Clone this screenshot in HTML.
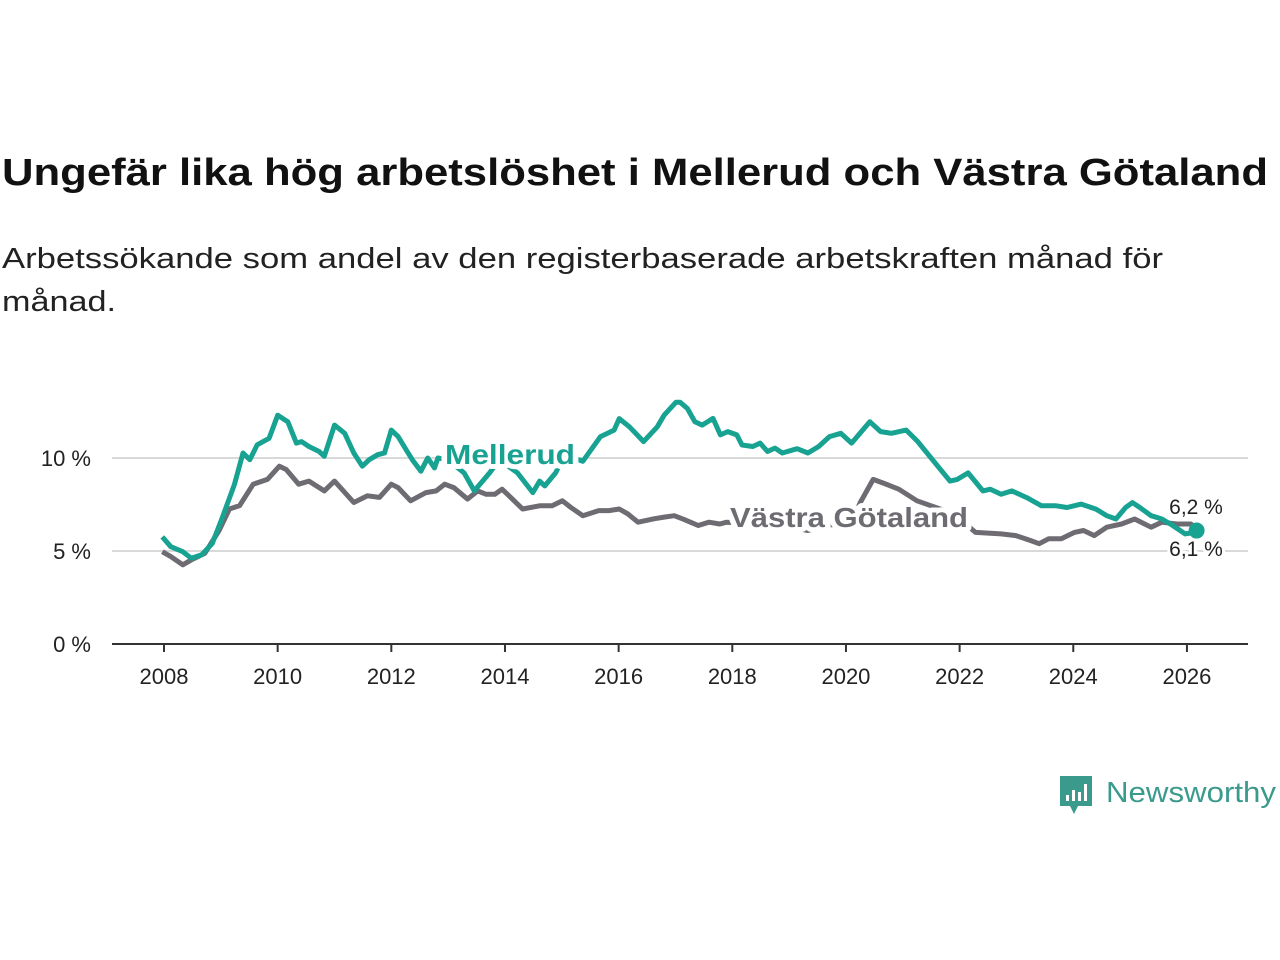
<!DOCTYPE html>
<html><head><meta charset="utf-8"><style>
html,body{margin:0;padding:0;background:#fff}
svg{display:block;font-family:"Liberation Sans","DejaVu Sans",sans-serif}
</style></head><body>
<svg id="chart" width="1280" height="960" viewBox="0 0 1280 960">
<text x="2" y="185" font-size="38" font-weight="bold" fill="#111" textLength="1266" lengthAdjust="spacingAndGlyphs">Ungefär lika hög arbetslöshet i Mellerud och Västra Götaland</text>
<text x="2" y="268" font-size="29" fill="#222" textLength="1161" lengthAdjust="spacingAndGlyphs">Arbetssökande som andel av den registerbaserade arbetskraften månad för</text>
<text x="2" y="311" font-size="29" fill="#222" textLength="114" lengthAdjust="spacingAndGlyphs">månad.</text>
<g id="grid"></g>
<g id="yticks"></g>
<g id="xticks"></g>
<g id="lines"></g>
<g>
<path d="M1060 776 h32 v30 h-14 l-4 8 l-4 -8 h-10 z" fill="#3a9a8c"/>
<rect x="1066" y="795" width="3" height="6" fill="#fff"/><rect x="1072" y="790" width="3" height="11" fill="#fff"/><rect x="1078" y="792" width="3" height="9" fill="#fff"/><rect x="1084" y="784" width="3" height="17" fill="#fff"/>
<text x="1106" y="802" font-size="29" fill="#3a9a8c" textLength="170" lengthAdjust="spacingAndGlyphs">Newsworthy</text>
</g>
</svg>
<script>
const yTicks=[0,5,10];
const yTickLabels=["0 %","5 %","10 %"];
const xTicks=[2008,2010,2012,2014,2016,2018,2020,2022,2024,2026];
const mYears=[2007.97,2008.12,2008.33,2008.48,2008.66,2008.85,2009.03,2009.24,2009.39,2009.51,2009.64,2009.85,2010.0,2010.18,2010.33,2010.42,2010.55,2010.73,2010.82,2011.0,2011.18,2011.34,2011.49,2011.61,2011.76,2011.88,2012.0,2012.12,2012.28,2012.37,2012.52,2012.64,2012.76,2012.82,2013.0,2013.28,2013.46,2013.73,2013.9,2014.22,2014.49,2014.61,2014.7,2014.89,2015.0,2015.2,2015.37,2015.68,2015.92,2016.01,2016.19,2016.44,2016.68,2016.8,2017.01,2017.08,2017.21,2017.34,2017.47,2017.66,2017.79,2017.92,2018.08,2018.17,2018.36,2018.49,2018.62,2018.75,2018.88,2019.14,2019.33,2019.52,2019.71,2019.91,2020.1,2020.42,2020.61,2020.8,2021.06,2021.26,2021.45,2021.64,2021.83,2021.96,2022.15,2022.41,2022.54,2022.73,2022.92,2023.18,2023.44,2023.7,2023.89,2024.14,2024.4,2024.59,2024.75,2024.92,2025.04,2025.17,2025.37,2025.56,2025.75,2025.97,2026.14,2026.17];
const mValues=[5.76,5.23,4.96,4.61,4.79,5.41,6.82,8.59,10.27,9.91,10.71,11.06,12.3,11.94,10.8,10.88,10.62,10.35,10.09,11.77,11.33,10.27,9.56,9.91,10.18,10.27,11.5,11.15,10.35,9.91,9.29,10.0,9.47,10.0,9.9,9.2,8.23,9.2,9.9,9.2,8.14,8.76,8.5,9.2,9.9,10.0,9.82,11.15,11.5,12.12,11.68,10.88,11.68,12.3,13.0,13.0,12.66,11.95,11.77,12.13,11.24,11.42,11.24,10.7,10.62,10.8,10.35,10.53,10.27,10.5,10.27,10.62,11.15,11.33,10.8,11.95,11.42,11.33,11.5,10.89,10.18,9.47,8.76,8.85,9.2,8.23,8.32,8.05,8.23,7.87,7.43,7.43,7.34,7.52,7.25,6.9,6.72,7.34,7.6,7.34,6.9,6.72,6.37,5.92,6.0,6.1];
const gYears=[2007.97,2008.12,2008.33,2008.48,2008.72,2008.97,2009.15,2009.33,2009.57,2009.82,2010.03,2010.15,2010.37,2010.55,2010.82,2011.0,2011.34,2011.58,2011.79,2012.0,2012.12,2012.34,2012.61,2012.79,2012.94,2013.1,2013.34,2013.52,2013.67,2013.82,2013.95,2014.13,2014.31,2014.61,2014.83,2015.01,2015.16,2015.37,2015.65,2015.83,2016.01,2016.16,2016.34,2016.62,2016.8,2016.98,2017.15,2017.4,2017.59,2017.78,2017.9,2018.2,2018.6,2019.0,2019.33,2019.7,2020.1,2020.25,2020.48,2020.7,2020.93,2021.25,2021.5,2021.9,2022.28,2022.73,2022.99,2023.24,2023.4,2023.57,2023.79,2024.02,2024.18,2024.37,2024.59,2024.85,2025.08,2025.37,2025.56,2025.82,2026.07,2026.17];
const gValues=[4.96,4.7,4.26,4.52,4.88,6.1,7.26,7.44,8.59,8.85,9.56,9.38,8.59,8.76,8.23,8.76,7.61,7.97,7.88,8.59,8.41,7.7,8.14,8.23,8.59,8.41,7.79,8.23,8.05,8.05,8.32,7.79,7.26,7.43,7.43,7.7,7.34,6.9,7.17,7.17,7.26,7.0,6.55,6.73,6.82,6.9,6.7,6.37,6.55,6.45,6.55,6.5,6.4,6.3,6.1,6.4,6.5,7.6,8.85,8.6,8.32,7.7,7.43,7.0,6.0,5.92,5.83,5.57,5.39,5.66,5.66,6.0,6.1,5.83,6.28,6.45,6.72,6.28,6.55,6.45,6.45,6.2];
const NS="http://www.w3.org/2000/svg";
const X=y=>164+(y-2008)*56.83;
const Y=v=>644-v*18.6;
function mk(tag,attrs,parent,text){const e=document.createElementNS(NS,tag);for(const k in attrs)e.setAttribute(k,attrs[k]);if(text!==undefined)e.textContent=text;parent.appendChild(e);return e;}
const grid=document.getElementById('grid'),yt=document.getElementById('yticks'),xt=document.getElementById('xticks'),ln=document.getElementById('lines');
yTicks.forEach((t,i)=>{
 if(t>0){const g=mk('line',{x1:112,x2:1248,y1:Y(t),y2:Y(t),stroke:'#d9d9d9','stroke-width':2},grid);
 
 }
 const l=mk('text',{x:91,y:Y(t)+8,'font-size':22,fill:'#222','text-anchor':'end'},yt,yTickLabels[i]);
 
 
});
const ax=mk('line',{x1:112,x2:1248,y1:644,y2:644,stroke:'#333','stroke-width':2},xt);


xTicks.forEach(t=>{
 const tk=mk('line',{x1:X(t),x2:X(t),y1:644,y2:652,stroke:'#333','stroke-width':2},xt);
 
 
 const l=mk('text',{x:X(t),y:684,'font-size':22,fill:'#222','text-anchor':'middle'},xt,String(t));
 
 
});
function pts(ys,vs){return ys.map((y,i)=>X(y).toFixed(1)+','+Y(vs[i]).toFixed(1)).join(' ');}
const gl=mk('polyline',{points:pts(gYears,gValues),fill:'none',stroke:'#6e6c72','stroke-width':5,'stroke-linejoin':'round'},ln);


const ml=mk('polyline',{points:pts(mYears,mValues),fill:'none',stroke:'#17a292','stroke-width':5,'stroke-linejoin':'round'},ln);


const lx=X(mYears[mYears.length-1]),lyM=Y(mValues[mValues.length-1]);
const dot=mk('circle',{cx:lx,cy:lyM,r:8,fill:'#17a292'},ln);


const halo={stroke:'#fff','stroke-width':6,'paint-order':'stroke','stroke-linejoin':'round'};
const halo2={stroke:'#fff','stroke-width':10,'paint-order':'stroke','stroke-linejoin':'round'};
const t1=mk('text',Object.assign({x:1196,y:514,'font-size':21,fill:'#222','text-anchor':'middle'},halo),ln,gValues[gValues.length-1].toFixed(1).replace('.',',')+' %');


const t2=mk('text',Object.assign({x:1196,y:556,'font-size':21,fill:'#222','text-anchor':'middle'},halo),ln,mValues[mValues.length-1].toFixed(1).replace('.',',')+' %');


const s1=mk('text',Object.assign({x:445,y:464,'font-size':28,'font-weight':'bold',fill:'#17a292',textLength:130,lengthAdjust:'spacingAndGlyphs'},halo2),ln,'Mellerud');


const s2=mk('text',Object.assign({x:730,y:527,'font-size':28,'font-weight':'bold',fill:'#6e6c72',textLength:238,lengthAdjust:'spacingAndGlyphs'},halo2),ln,'Västra Götaland');


</script>
</body></html>
